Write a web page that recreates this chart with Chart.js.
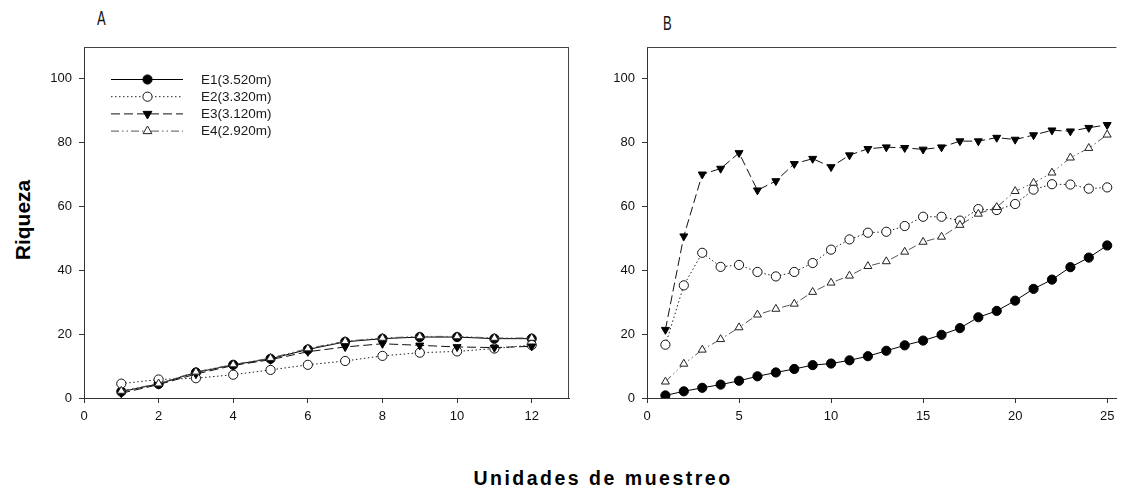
<!DOCTYPE html>
<html>
<head>
<meta charset="utf-8">
<script src="https://cdn.jsdelivr.net/npm/chart.js@4.4.1/dist/chart.umd.min.js"></script>
<style>
  html, body { margin:0; padding:0; background:#fff; }
  body { width:1122px; height:489px; position:relative; overflow:hidden; font-family:"Liberation Sans", Arial, sans-serif; }
  canvas { position:absolute; top:0; }
  #cA { left:0; }
  #cB { left:580px; }
  .panel { position:absolute; font-family:"Liberation Sans", Arial, sans-serif; font-size:21px; color:#111; line-height:1; transform-origin:0 0; transform:scaleX(0.62); }
  #ylab { position:absolute; left:22px; top:220px; transform:translate(-50%,-50%) rotate(-90deg); font-weight:bold; font-size:21px; color:#000; white-space:nowrap; line-height:1; }
  #xlab { position:absolute; left:603px; top:479px; transform:translate(-50%,-50%); font-weight:bold; font-size:19.5px; letter-spacing:2.5px; color:#000; white-space:nowrap; line-height:1; }
</style>
</head>
<body>
<div class="panel" style="left:97px;top:7px;">A</div>
<div class="panel" style="left:663px;top:12px;">B</div>
<div id="ylab">Riqueza</div>
<div id="xlab">Unidades de muestreo</div>
<canvas id="cA" width="580" height="440"></canvas>
<canvas id="cB" width="542" height="440"></canvas>
<script>
// ---- Data ----
const seriesNames = ["E1(3.520m)", "E2(3.320m)", "E3(3.120m)", "E4(2.920m)"];

const unitsA = [1,2,3,4,5,6,7,8,9,10,11,12];
const aE1 = [2.0, 4.4, 8.0, 10.4, 12.3, 15.2, 17.6, 18.6, 19.1, 19.1, 18.6, 18.6];
const aE2 = [4.5, 5.8, 6.2, 7.3, 8.8, 10.4, 11.6, 13.2, 14.2, 14.6, 15.5, 16.6];
const aE3 = [1.5, 4.2, 7.5, 10.2, 12.0, 14.5, 16.0, 17.0, 16.5, 16.0, 15.8, 16.2];
const aE4 = [2.2, 4.5, 8.2, 10.5, 12.5, 15.5, 17.8, 18.8, 19.3, 19.3, 18.8, 18.8];

const unitsB = [1,2,3,4,5,6,7,8,9,10,11,12,13,14,15,16,17,18,19,20,21,22,23,24,25];
const bE1 = [0.8, 2.1, 3.2, 4.2, 5.4, 6.8, 8.0, 9.1, 10.3, 10.8, 11.8, 13.1, 14.8, 16.5, 18.0, 19.8, 21.9, 25.3, 27.3, 30.5, 34.2, 37.1, 41.0, 44.0, 47.8];
const bE2 = [16.7, 35.3, 45.5, 41.1, 41.7, 39.5, 38.1, 39.5, 42.3, 46.5, 49.7, 51.8, 52.1, 53.9, 56.8, 56.8, 55.6, 59.2, 58.9, 60.8, 65.3, 67.0, 66.9, 65.6, 66.0];
const bE3 = [21.4, 50.7, 70.1, 71.9, 76.8, 65.1, 68.0, 73.4, 75.0, 72.4, 76.1, 78.1, 78.6, 78.4, 77.9, 78.6, 80.5, 80.5, 81.6, 81.0, 82.4, 83.9, 83.6, 84.7, 85.6];
const bE4 = [5.1, 10.7, 15.1, 18.4, 22.1, 26.1, 27.9, 29.5, 33.2, 36.1, 38.3, 41.3, 42.8, 45.8, 48.9, 50.5, 54.2, 57.7, 59.8, 64.8, 67.4, 70.6, 75.3, 78.3, 82.5];

const yTicks = [0, 20, 40, 60, 80, 100];
const xTicksA = [0, 2, 4, 6, 8, 10, 12];
const xTicksB = [0, 5, 10, 15, 20, 25];

// ---- Styles ----
const styles = [
  { borderColor:'#000', borderDash:[], pointStyle:'circle', pointRotation:0, pointBackgroundColor:'#000', pointBorderColor:'#000', order:3 },
  { borderColor:'#222', borderDash:[1.5,2.5], pointStyle:'circle', pointRotation:0, pointBackgroundColor:'#fff', pointBorderColor:'#111', order:2 },
  { borderColor:'#111', borderDash:[9,4], pointStyle:'triangle', pointRotation:180, pointBackgroundColor:'#000', pointBorderColor:'#000', order:1 },
  { borderColor:'#555', borderDash:[8,3,1.5,3,1.5,3], pointStyle:'triangle', pointRotation:0, pointBackgroundColor:'#fff', pointBorderColor:'#222', order:0 }
];

function makeDatasets(xs, arrays) {
  return arrays.map((vals, i) => Object.assign({
    label: seriesNames[i],
    data: xs.map((x, j) => ({ x: x, y: vals[j] })),
    borderWidth: 1,
    pointRadius: 4.6,
    pointBorderWidth: 1,
    tension: 0,
    fill: false
  }, styles[i]));
}

const tickFont = { family:'"Liberation Sans", Arial, sans-serif', size:13 };

function scaleOpts(min, max, ticks, fitKey, fitVal, pad) {
  return {
    type:'linear', min:min, max:max,
    grid:{ display:true, drawOnChartArea:false, drawTicks:true, tickLength:5, tickColor:'#333', color:'#333' },
    border:{ display:true, color:'#333', width:1 },
    ticks:{ font:tickFont, color:'#111', padding:pad, autoSkip:false, maxRotation:0 },
    afterBuildTicks: (s) => { s.ticks = ticks.map(v => ({ value:v })); },
    afterFit: (s) => { s[fitKey] = fitVal; }
  };
}

const framePlugin = {
  id:'frame',
  afterDraw(chart, args, opts) {
    const a = chart.chartArea, ctx = chart.ctx;
    ctx.save();
    ctx.strokeStyle = '#444';
    ctx.lineWidth = 1;
    ctx.beginPath();
    ctx.moveTo(a.left, a.top + 0.5);
    ctx.lineTo(a.right, a.top + 0.5);
    if (opts.right) {
      ctx.moveTo(a.right - 0.5, a.top);
      ctx.lineTo(a.right - 0.5, a.bottom);
    }
    ctx.stroke();
    ctx.restore();
  }
};

function drawMarker(ctx, style, rotation, r, x, y) {
  ctx.beginPath();
  if (style === 'circle') {
    ctx.arc(x, y, r, 0, Math.PI * 2);
  } else {
    const rad = rotation * Math.PI / 180;
    for (let k = 0; k < 3; k++) {
      const ang = rad + k * 2 * Math.PI / 3;
      const px = x + Math.sin(ang) * r * 1.1;
      const py = y - Math.cos(ang) * r * 1.1;
      if (k === 0) ctx.moveTo(px, py); else ctx.lineTo(px, py);
    }
    ctx.closePath();
  }
  ctx.fill();
  ctx.stroke();
}

const legendPlugin = {
  id:'lineLegend',
  afterDraw(chart) {
    const ctx = chart.ctx;
    chart.data.datasets.forEach((ds, i) => {
      const y = 79 + i * 17.2;
      ctx.save();
      ctx.strokeStyle = ds.borderColor;
      ctx.lineWidth = 1;
      ctx.setLineDash(ds.borderDash || []);
      ctx.beginPath();
      ctx.moveTo(111, y + 0.5);
      ctx.lineTo(183, y + 0.5);
      ctx.stroke();
      ctx.setLineDash([]);
      ctx.fillStyle = ds.pointBackgroundColor;
      ctx.strokeStyle = ds.pointBorderColor;
      drawMarker(ctx, ds.pointStyle, ds.pointRotation, 4.6, 147.5, y + 0.5);
      ctx.fillStyle = '#1a1a1a';
      ctx.font = '13.5px "Liberation Sans", Arial, sans-serif';
      ctx.textBaseline = 'middle';
      ctx.fillText(ds.label, 201, y + 1);
      ctx.restore();
    });
  }
};

const common = {
  responsive:false, animation:false, devicePixelRatio:1,
  plugins:{ legend:{ display:false }, tooltip:{ enabled:false } }
};

new Chart(document.getElementById('cA'), {
  type:'line',
  data:{ datasets: makeDatasets(unitsA, [aE1, aE2, aE3, aE4]) },
  options: Object.assign({}, common, {
    layout:{ padding:{ top:47, right:11, left:0, bottom:0 } },
    plugins:{ legend:{ display:false }, tooltip:{ enabled:false }, frame:{ right:true } },
    scales:{
      x: scaleOpts(0, 13, xTicksA, 'height', 42, 6),
      y: scaleOpts(0, 110, yTicks, 'width', 84, 7)
    }
  }),
  plugins:[framePlugin, legendPlugin]
});

new Chart(document.getElementById('cB'), {
  type:'line',
  data:{ datasets: makeDatasets(unitsB, [bE1, bE2, bE3, bE4]) },
  options: Object.assign({}, common, {
    layout:{ padding:{ top:47, right:0, left:0, bottom:0 } },
    plugins:{ legend:{ display:false }, tooltip:{ enabled:false }, frame:{ right:false } },
    scales:{
      x: scaleOpts(0, 25.5, xTicksB, 'height', 42, 6),
      y: scaleOpts(0, 110, yTicks, 'width', 67, 7)
    }
  }),
  plugins:[framePlugin]
});
</script>
</body>
</html>
